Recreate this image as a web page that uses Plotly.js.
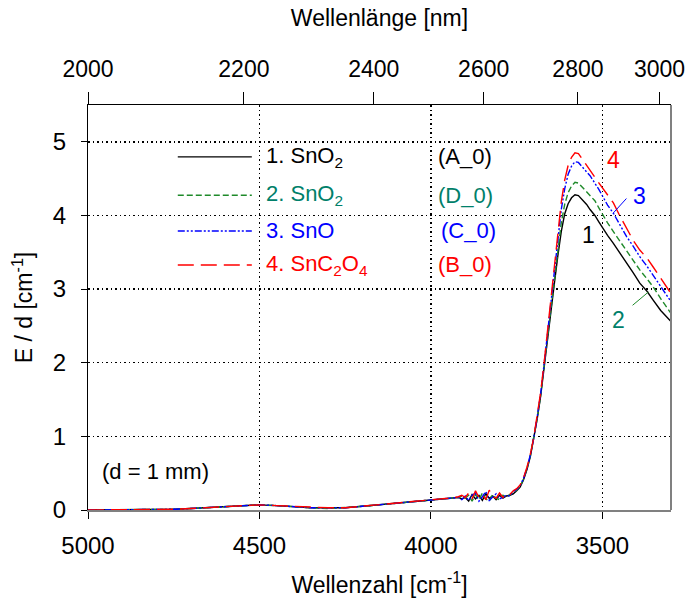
<!DOCTYPE html>
<html>
<head>
<meta charset="utf-8">
<script src="https://cdn.plot.ly/plotly-3.0.1.min.js"></script>
<style>html,body{margin:0;padding:0;background:#fff;}#chart{width:688px;height:607px;}</style>
</head>
<body>
<div id="chart"></div>
<script>
// Wavenumber grid (cm^-1)
const wavenumber = [5000,4950,4900,4850,4800,4750,4700,4650,4600,4550,4500,4450,4400,4350,4300,4250,4200,4150,4100,4050,4000,3950,3920,
  3910,3900,3890,3880,3870,3860,3850,3840,3830,3820,3810,3800,3790,3780,3770,3760,
  3750,3740,3730,3720,3710,3700,3690,3680,3670,3660,3650,3640,3630,3620,3610,3600,3590,3580,3570,3560,3546,3536,3522,3510,3498,3485,3468,3450,3429,3410,3391,3370,3352,3330,3300];

const sno2_A = [0.00,0.00,0.00,0.00,0.00,0.01,0.02,0.03,0.05,0.06,0.07,0.06,0.04,0.03,0.03,0.03,0.05,0.07,0.10,0.12,0.14,0.16,0.17,
  0.15,0.17,0.12,0.21,0.15,0.20,0.13,0.22,0.16,0.19,0.14,0.20,0.16,0.19,0.20,0.22,
  0.26,0.31,0.41,0.55,0.73,0.96,1.24,1.55,1.95,2.36,2.74,3.08,3.45,3.78,4.02,4.16,4.24,4.28,4.27,4.22,4.15,4.08,4.00,3.91,3.82,3.73,3.62,3.50,3.35,3.22,3.08,2.97,2.85,2.71,2.56];
const sno2_D = [0.00,0.00,0.00,0.00,0.01,0.01,0.02,0.03,0.05,0.06,0.07,0.06,0.04,0.03,0.02,0.03,0.05,0.07,0.09,0.12,0.14,0.16,0.17,
  0.19,0.16,0.20,0.12,0.21,0.14,0.23,0.15,0.12,0.21,0.16,0.14,0.20,0.17,0.21,0.23,
  0.27,0.32,0.42,0.56,0.74,0.97,1.25,1.56,1.96,2.38,2.78,3.15,3.55,3.90,4.15,4.31,4.40,4.45,4.44,4.39,4.32,4.27,4.20,4.10,4.00,3.90,3.78,3.66,3.51,3.39,3.26,3.14,3.03,2.87,2.67];
const sno_C = [0.00,0.00,0.00,0.00,0.00,0.01,0.02,0.03,0.05,0.06,0.07,0.06,0.04,0.03,0.03,0.03,0.05,0.07,0.10,0.12,0.14,0.16,0.17,
  0.14,0.19,0.13,0.20,0.23,0.12,0.18,0.25,0.13,0.17,0.22,0.15,0.18,0.20,0.19,0.25,
  0.28,0.33,0.43,0.57,0.75,0.98,1.27,1.58,1.98,2.40,2.83,3.22,3.68,4.08,4.36,4.56,4.67,4.73,4.72,4.66,4.59,4.54,4.44,4.35,4.25,4.14,4.03,3.88,3.71,3.58,3.44,3.31,3.19,3.03,2.83];
const snc2o4_B = [0.00,0.00,0.00,0.00,0.00,0.01,0.02,0.03,0.05,0.06,0.07,0.06,0.05,0.03,0.03,0.03,0.05,0.07,0.10,0.12,0.14,0.16,0.18,
  0.20,0.17,0.23,0.15,0.26,0.17,0.21,0.14,0.27,0.18,0.16,0.23,0.17,0.22,0.21,0.26,
  0.29,0.34,0.44,0.58,0.76,0.99,1.28,1.60,2.00,2.42,2.86,3.28,3.74,4.18,4.48,4.68,4.79,4.85,4.84,4.77,4.68,4.60,4.52,4.44,4.36,4.27,4.17,4.00,3.82,3.66,3.53,3.42,3.30,3.14,2.94];

const wavelengthTicks = [2000,2200,2400,2600,2800,3000];
const wavenumberTicks = [5000,4500,4000,3500];
const yTicks = [0,1,2,3,4,5];

const FONT = 'Arial, "Liberation Sans", sans-serif';
const green = '#1f8a2a', teal = '#00806a';

const series = [
  {y: sno2_A, color: '#000000', dash: 'solid', w: 1.4},
  {y: sno2_D, color: green, dash: '6px,3px', w: 1.4},
  {y: sno_C, color: '#0000ff', dash: '7px,2px,2px,2px,2px,2px', w: 1.4},
  {y: snc2o4_B, color: '#ff0000', dash: '16px,7px', w: 1.4}
];

const traces = series.map(s => ({
  x: wavenumber, y: s.y, type: 'scatter', mode: 'lines',
  line: {color: s.color, dash: s.dash, width: s.w},
  showlegend: false, hoverinfo: 'skip'
}));
// invisible trace to activate the top (wavelength) axis
traces.push({x: wavenumber, y: sno2_A, xaxis: 'x2', yaxis: 'y', mode: 'lines',
  line: {width: 0}, opacity: 0, showlegend: false, hoverinfo: 'skip'});

const legendRows = [
  {name: '1. SnO<sub>2</sub>', tag: '(A_0)', color: '#000000', tcolor: '#000000', dash: 'solid', y: 0.872, tagx: 0.597},
  {name: '2. SnO<sub>2</sub>', tag: '(D_0)', color: green, tcolor: teal, dash: '6px,3px', y: 0.777, tagx: 0.597},
  {name: '3. SnO', tag: '(C_0)', color: '#0000ff', tcolor: '#0000ff', dash: '7px,2px,2px,2px,2px,2px', y: 0.689, tagx: 0.602},
  {name: '4. SnC<sub>2</sub>O<sub>4</sub>', tag: '(B_0)', color: '#ff0000', tcolor: '#ff0000', dash: '16px,7px', y: 0.605, tagx: 0.597}
];

const shapes = [
  {type: 'line', xref: 'paper', yref: 'paper', x0: 1, x1: 1, y0: 0, y1: 1, line: {color: '#808080', width: 2}}
];
const annotations = [];
legendRows.forEach(r => {
  shapes.push({type: 'line', xref: 'paper', yref: 'paper', x0: 0.154, x1: 0.281, y0: r.y, y1: r.y,
    line: {color: r.color, width: 1.4, dash: r.dash}});
  annotations.push({xref: 'paper', yref: 'paper', x: 0.302, y: r.y, xanchor: 'left', yanchor: 'middle',
    text: r.name, showarrow: false, font: {family: FONT, size: 22, color: r.tcolor}});
  annotations.push({xref: 'paper', yref: 'paper', x: r.tagx, y: r.y, xanchor: 'left', yanchor: 'middle',
    text: r.tag, showarrow: false, font: {family: FONT, size: 22, color: r.tcolor}});
});
annotations.push({xref: 'paper', yref: 'paper', x: 0.02, y: 0.096, xanchor: 'left', yanchor: 'middle',
  text: '(d = 1 mm)', showarrow: false, font: {family: FONT, size: 22, color: '#000'}});

// curve labels
const curveLabels = [
  {t: '1', x: 3542, y: 3.73, c: '#000000'},
  {t: '2', x: 3452, y: 2.58, c: teal},
  {t: '3', x: 3391, y: 4.27, c: '#0000ff'},
  {t: '4', x: 3469, y: 4.75, c: '#ff0000'}
];
curveLabels.forEach(l => annotations.push({x: l.x, y: l.y, xref: 'x', yref: 'y', text: l.t, showarrow: false,
  font: {family: FONT, size: 23, color: l.c}}));
shapes.push({type: 'line', xref: 'x', yref: 'y', x0: 3469, y0: 4.03, x1: 3430, y1: 4.23, line: {color: '#0000ff', width: 1}});
shapes.push({type: 'line', xref: 'x', yref: 'y', x0: 3412, y0: 2.78, x1: 3366, y1: 2.96, line: {color: green, width: 1}});

const gridStyle = {showgrid: true, gridcolor: '#000', gridwidth: 1.5, griddash: '1.5px,3px'};

const layout = {
  width: 688, height: 607,
  margin: {l: 88, r: 17, t: 105, b: 97, pad: 0},
  paper_bgcolor: '#fff', plot_bgcolor: '#fff',
  font: {family: FONT, size: 23, color: '#000'},
  showlegend: false,
  xaxis: Object.assign({
    range: [5000, 3300], tickvals: wavenumberTicks, ticktext: wavenumberTicks.map(String),
    ticks: 'outside', ticklen: 7, tickwidth: 1, tickcolor: '#000',
    showline: true, linecolor: '#808080', linewidth: 2, zeroline: false,
    tickfont: {family: FONT, size: 24}, ticklabelstandoff: 6,
    title: {text: 'Wellenzahl [cm<sup>-1</sup>]', font: {family: FONT, size: 23}, standoff: 19},
    automargin: false
  }, gridStyle),
  xaxis2: {
    overlaying: 'x', side: 'top', anchor: 'y',
    range: [5000, 3300], tickvals: wavelengthTicks.map(l => 1e7 / l), ticktext: wavelengthTicks.map(String),
    ticks: 'outside', ticklen: 12, tickwidth: 1, tickcolor: '#000',
    showline: true, linecolor: '#000', linewidth: 1, showgrid: false, zeroline: false,
    tickfont: {family: FONT, size: 23}, ticklabelstandoff: 6,
    title: {text: 'Wellenlänge [nm]', font: {family: FONT, size: 23}, standoff: 22},
    automargin: false
  },
  yaxis: Object.assign({
    range: [0, 5.5], tickvals: yTicks, ticktext: yTicks.map(String),
    ticks: 'outside', ticklen: 6, tickwidth: 1, tickcolor: '#000',
    showline: true, linecolor: '#000', linewidth: 1, zeroline: false,
    tickfont: {family: FONT, size: 24}, ticklabelstandoff: 10,
    title: {text: 'E / d [cm<sup>-1</sup>]', font: {family: FONT, size: 23}, standoff: 13},
    automargin: false
  }, gridStyle),
  shapes: shapes,
  annotations: annotations
};

Plotly.newPlot('chart', traces, layout, {staticPlot: true, displayModeBar: false});
</script>
</body>
</html>
